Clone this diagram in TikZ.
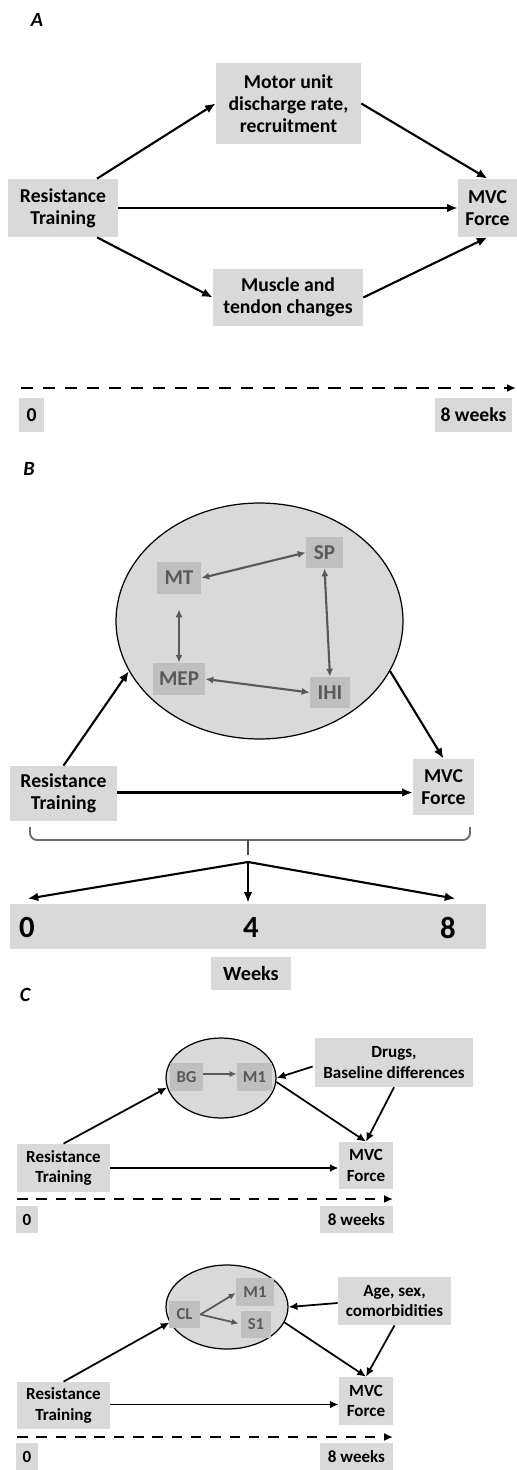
\documentclass[tikz,border=0pt]{standalone}
\usepackage{fontspec}
\setmainfont{Carlito}
\usetikzlibrary{arrows.meta,calc,shapes.geometric}
\definecolor{boxgray}{HTML}{D9D9D9}
\definecolor{innergray}{HTML}{BFBFBF}
\definecolor{textgray}{HTML}{595959}
\tikzset{
  box/.style={fill=boxgray,inner sep=0pt,align=center,font=\bfseries\fontsize{11.2}{12.6}\selectfont},
  boxc/.style={box,font=\bfseries\fontsize{9.7}{11.5}\selectfont},
  inbox/.style={fill=innergray,inner sep=0pt,text=textgray,font=\bfseries\fontsize{12}{14}\selectfont},
  inboxc/.style={inbox,font=\bfseries\fontsize{9.5}{11}\selectfont},
  arr/.style={-{Latex[length=6pt,width=5pt]},line width=1.2pt},
  arrc/.style={-{Latex[length=5pt,width=4.5pt]},line width=1pt},
  inarr/.style={{Latex[length=4.5pt,width=4pt]}-{Latex[length=4.5pt,width=4pt]},line width=1.2pt,draw=textgray},
  inarrc/.style={-{Latex[length=4pt,width=3.5pt]},line width=1pt,draw=textgray},
  timeline/.style={-{Latex[length=5pt,width=4.5pt]},line width=1.5pt,dash pattern=on 7pt off 5.5pt},
  panel/.style={font=\bfseries\itshape\fontsize{11.5}{13}\selectfont},
  cloud/.style={ellipse,draw,fill=boxgray,line width=0.7pt,inner sep=0pt}
}
\begin{document}
\begin{tikzpicture}[x=0.02cm,y=-0.02cm]
\useasboundingbox (0,0) rectangle (517,1470);

\node[panel] (labA) at (37,20) {A};
\node[box,minimum width=2.9cm,minimum height=1.62cm] (motA) at (288.5,103.5) {Motor unit\\discharge rate,\\recruitment};
\node[box,minimum width=2.2cm,minimum height=1.16cm] (rtA) at (63,208) {Resistance\\Training};
\node[box,minimum width=1.18cm,minimum height=1.16cm] (mvcA) at (487.5,208) {MVC\\Force};
\node[box,minimum width=3cm,minimum height=1.14cm] (musA) at (288,297.5) {Muscle and\\tendon changes};
\draw[arr] ($(rtA.north)+(34,0)$) -- (motA.west);
\draw[arr] (motA.east) -- (mvcA.north);
\draw[arr] (rtA.east) -- (mvcA.west);
\draw[arr] ($(rtA.south)+(34,0)$) -- (musA.west);
\draw[arr] (musA.east) -- (mvcA.south);
\coordinate (tA0) at (21,388);
\coordinate (tA1) at (516,388);
\draw[timeline] (tA0) -- (tA1);
\node[box,minimum width=0.5cm,minimum height=0.68cm] (zeroA) at (31.5,415) {0};
\node[box,minimum width=1.54cm,minimum height=0.68cm] (wkA) at (473.5,415) {8 weeks};

\node[panel] (labB) at (29,469) {B};
\node[cloud,minimum width=5.74cm,minimum height=4.72cm] (ellB) at (259.5,621) {};
\node[inbox,minimum width=0.88cm,minimum height=0.64cm] (mtB) at (179,578) {MT};
\node[inbox,minimum width=0.74cm,minimum height=0.62cm] (spB) at (324.5,552.5) {SP};
\node[inbox,minimum width=1.04cm,minimum height=0.64cm] (mepB) at (179,679) {MEP};
\node[inbox,minimum width=0.8cm,minimum height=0.62cm] (ihiB) at (330,692.5) {IHI};
\draw[inarr] (mtB.east) -- (spB.west);
\draw[inarr,shorten <=0.3cm] (mtB.south) -- (mepB.north);
\draw[inarr] (spB.south) -- (ihiB.north);
\draw[inarr] (mepB.east) -- (ihiB.west);
\node[box,minimum width=2.14cm,minimum height=1.1cm] (rtB) at (63.5,793.5) {Resistance\\Training};
\node[box,minimum width=1.22cm,minimum height=1.12cm] (mvcB) at (443.5,787) {MVC\\Force};
\draw[arr] (rtB.north) -- (ellB.201);
\draw[arr] (ellB.339) -- (mvcB.north);
\draw[arr] ($(rtB.east)+(0,-1)$) -- ($(rtB.east -| mvcB.west)+(0,-1)$);
\coordinate (brL) at (30,827);
\coordinate (brR) at (470,827);
\coordinate (brM) at (248,840);
\draw[gray!85!black,line width=1.1pt,rounded corners=4pt] (brL) -- (brL |- brM) -- (brR |- brM) -- (brR);
\draw[gray!60!black,line width=1.4pt] (brM) -- ++(0,15);
\coordinate (fanB) at (248,862);
\node[box,minimum width=9.52cm,minimum height=0.9cm] (bandB) at (248,926.5) {};
\node[font=\bfseries\fontsize{17.5}{19}\selectfont] (n0B) at (27,928) {0};
\node[font=\bfseries\fontsize{17.5}{19}\selectfont] (n4B) at (251,928) {4};
\node[font=\bfseries\fontsize{17.5}{19}\selectfont] (n8B) at (448,928) {8};
\draw[arr] (fanB) -- ($(bandB.north west)+(18,-5)$);
\draw[arr] (fanB) -- ($(fanB |- bandB.north)+(0,-1)$);
\draw[arr] (fanB) -- ($(bandB.north east)+(-31,-5)$);
\node[box,font=\bfseries\fontsize{11.5}{13}\selectfont,minimum width=1.6cm,minimum height=0.66cm] (wkB) at (251,973.5) {Weeks};

\node[panel] (labC) at (25,995) {C};
\node[cloud,minimum width=2.2cm,minimum height=1.6cm] (ellC) at (221,1078) {};
\node[inboxc,minimum width=0.66cm,minimum height=0.56cm] (bgC) at (186.5,1077) {BG};
\node[inboxc,minimum width=0.7cm,minimum height=0.56cm] (m1C) at (254.5,1077) {M1};
\draw[inarrc] ($(bgC.east)+(0,-3)$) -- ($(m1C.west)+(0,-3)$);
\node[boxc,minimum width=3.16cm,minimum height=0.98cm] (drC) at (394,1062.5) {Drugs,\\Baseline differences};
\node[boxc,minimum width=1.86cm,minimum height=0.96cm] (rtC) at (63.5,1168) {Resistance\\Training};
\node[boxc,minimum width=1.08cm,minimum height=0.94cm] (mvcC) at (366,1165.5) {MVC\\Force};
\draw[arrc] ($(drC.west)+(-2,4)$) -- (ellC.east);
\draw[arrc] (ellC.356) -- (mvcC.north);
\draw[arrc] (drC.south) -- (mvcC.north);
\draw[arrc] (rtC.north) -- (ellC.190);
\draw[arrc] (rtC.east) -- (rtC.east -| mvcC.west);
\coordinate (tC0) at (17,1199);
\coordinate (tC1) at (393,1199);
\draw[timeline,line width=1.3pt,dash pattern=on 6pt off 5pt] (tC0) -- (tC1);
\node[boxc,minimum width=0.44cm,minimum height=0.54cm] (zeroC) at (27,1219.5) {0};
\node[boxc,minimum width=1.46cm,minimum height=0.54cm] (wkC) at (356.5,1219.5) {8 weeks};

\node[cloud,minimum width=2.44cm,minimum height=1.68cm] (ellD) at (227,1307) {};
\node[inboxc,minimum width=0.62cm,minimum height=0.54cm] (clD) at (184.5,1314.5) {CL};
\node[inboxc,minimum width=0.76cm,minimum height=0.56cm] (m1D) at (255,1292) {M1};
\node[inboxc,minimum width=0.6cm,minimum height=0.54cm] (s1D) at (256,1324.5) {S1};
\draw[inarrc] (clD.east) -- ($(m1D.west)+(0,1)$);
\draw[inarrc] (clD.east) -- ($(s1D.west)+(-2,-1)$);
\node[boxc,minimum width=2.26cm,minimum height=0.96cm] (agD) at (394.5,1301) {Age, sex,\\comorbidities};
\node[boxc,minimum width=1.86cm,minimum height=0.94cm] (rtD) at (63.5,1405.5) {Resistance\\Training};
\node[boxc,minimum width=1.08cm,minimum height=0.96cm] (mvcD) at (366,1401) {MVC\\Force};
\draw[arrc] ($(agD.west)+(0,2)$) -- (ellD.east);
\draw[arrc] (ellD.345) -- (mvcD.north);
\draw[arrc] (agD.south) -- (mvcD.north);
\draw[arrc] (rtD.north) -- (ellD.195);
\draw[arrc] ($(rtD.east)+(0,-1)$) -- ($(rtD.east -| mvcD.west)+(0,-1)$);
\coordinate (tD0) at (17,1437);
\coordinate (tD1) at (393,1437);
\draw[timeline,line width=1.3pt,dash pattern=on 6pt off 5pt] (tD0) -- (tD1);
\node[boxc,minimum width=0.44cm,minimum height=0.54cm] (zeroD) at (27,1456.5) {0};
\node[boxc,minimum width=1.46cm,minimum height=0.54cm] (wkD) at (356.5,1456.5) {8 weeks};
\end{tikzpicture}
\end{document}
